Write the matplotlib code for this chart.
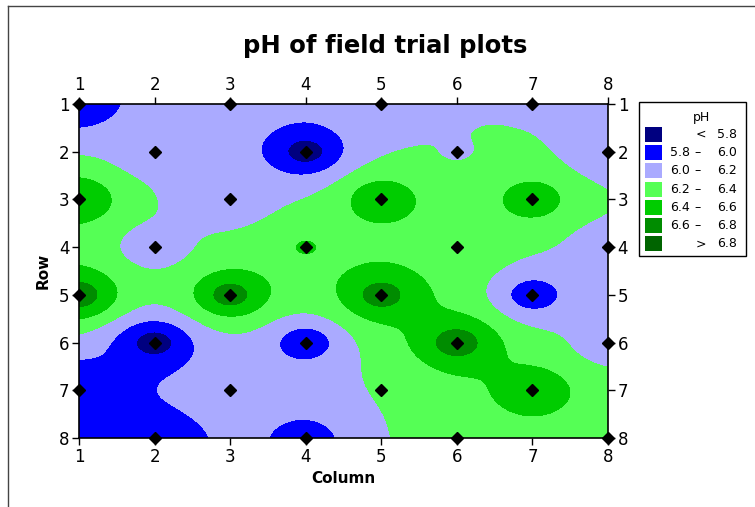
import numpy as np
import matplotlib
matplotlib.use("Agg")
import matplotlib.pyplot as plt
from matplotlib.patches import Rectangle
from matplotlib.lines import Line2D

# Sampled plots: column, row and measured pH
cols = [1, 3, 5, 7,  2, 4, 6, 8,  1, 3, 5, 7,  2, 4, 6, 8,
        1, 3, 5, 7,  2, 4, 6, 8,  1, 3, 5, 7,  2, 4, 6, 8]
rows = [1, 1, 1, 1,  2, 2, 2, 2,  3, 3, 3, 3,  4, 4, 4, 4,
        5, 5, 5, 5,  6, 6, 6, 6,  7, 7, 7, 7,  8, 8, 8, 8]
ph = [5.85, 6.10, 6.10, 6.19,  6.10, 5.70, 6.19, 6.03,
      6.58, 6.05, 6.57, 6.52,  6.08, 6.41, 6.33, 6.08,
      6.70, 6.70, 6.70, 5.87,  5.70, 5.85, 6.72, 6.10,
      5.82, 6.10, 6.20, 6.55,  5.83, 5.90, 6.30, 6.30]

levels = [5.8, 6.0, 6.2, 6.4, 6.6, 6.8]
colors = ["#000080", "#0000ff", "#aaaaff", "#55ff55", "#00cc00", "#008c00", "#006400"]
tick_vals = [1, 2, 3, 4, 5, 6, 7, 8]

x = np.asarray(cols, float)
y = np.asarray(rows, float)
z = np.asarray(ph, float)

# Inverse-distance weighted surface over the field
gx, gy = np.meshgrid(np.linspace(1, 8, 141), np.linspace(1, 8, 141))
d2 = (gx[..., None] - x) ** 2 + (gy[..., None] - y) ** 2
w = 1.0 / np.maximum(d2, 1e-12)
gz = (w * z).sum(-1) / w.sum(-1)

fig = plt.figure(figsize=(7.55, 5.07), dpi=100)
ax = fig.add_axes([79 / 755, 1 - 438 / 507, 529 / 755, 334 / 507])

bounds = [0.0] + levels + [14.0]
ax.contourf(gx, gy, gz, levels=bounds, colors=colors)
ax.plot(x, y, "D", color="black", ms=6.2, clip_on=False, zorder=5)

ax.set_xlim(1, 8)
ax.set_ylim(8, 1)
ax.set_xticks(tick_vals)
ax.set_yticks(tick_vals)
ax.tick_params(direction="out", length=5, width=1, labelsize=12,
               top=True, right=True, labeltop=True, labelright=True, pad=2)
for s in ax.spines.values():
    s.set_linewidth(1.2)
ax.set_xlabel("Column", fontsize=11, fontweight="bold", labelpad=4)
ax.set_ylabel("Row", fontsize=11, fontweight="bold", labelpad=6)

fig.text(0.51, 1 - 46 / 507, "pH of field trial plots", ha="center", va="center",
         fontsize=17.5, fontweight="bold")

# Legend box
def fx(px):
    return px / 755

def fy(py):
    return 1 - py / 507

fig.add_artist(Rectangle((fx(639), fy(256)), fx(746) - fx(639), fy(102) - fy(256),
                         transform=fig.transFigure, fill=False, edgecolor="black", lw=1))
fig.text(fx(702), fy(118), "pH", ha="center", va="center", fontsize=9)
labels_lo = ["", "5.8", "6.0", "6.2", "6.4", "6.6", ""]
labels_mid = ["<", "\u2013", "\u2013", "\u2013", "\u2013", "\u2013", ">"]
labels_hi = ["5.8", "6.0", "6.2", "6.4", "6.6", "6.8", "6.8"]
for i, c in enumerate(colors):
    top = 127 + i * 18.2
    fig.add_artist(Rectangle((fx(645), fy(top + 15)), fx(17), fy(0) - fy(15),
                             transform=fig.transFigure, facecolor=c, edgecolor="none"))
    yc = fy(top + 7.5)
    fig.text(fx(670), yc, labels_lo[i], ha="left", va="center", fontsize=9)
    mid_x = 701 if labels_lo[i] == "" else 698
    fig.text(fx(mid_x), yc, labels_mid[i], ha="center", va="center", fontsize=9)
    fig.text(fx(737), yc, labels_hi[i], ha="right", va="center", fontsize=9)

# Outer frame edges
fig.add_artist(Line2D([fx(8), 1], [fy(6), fy(6)], transform=fig.transFigure,
                      color="#444444", lw=1))
fig.add_artist(Line2D([fx(8), fx(8)], [fy(6), 0], transform=fig.transFigure,
                      color="#444444", lw=1))

fig.savefig("out.png", dpi=100)
